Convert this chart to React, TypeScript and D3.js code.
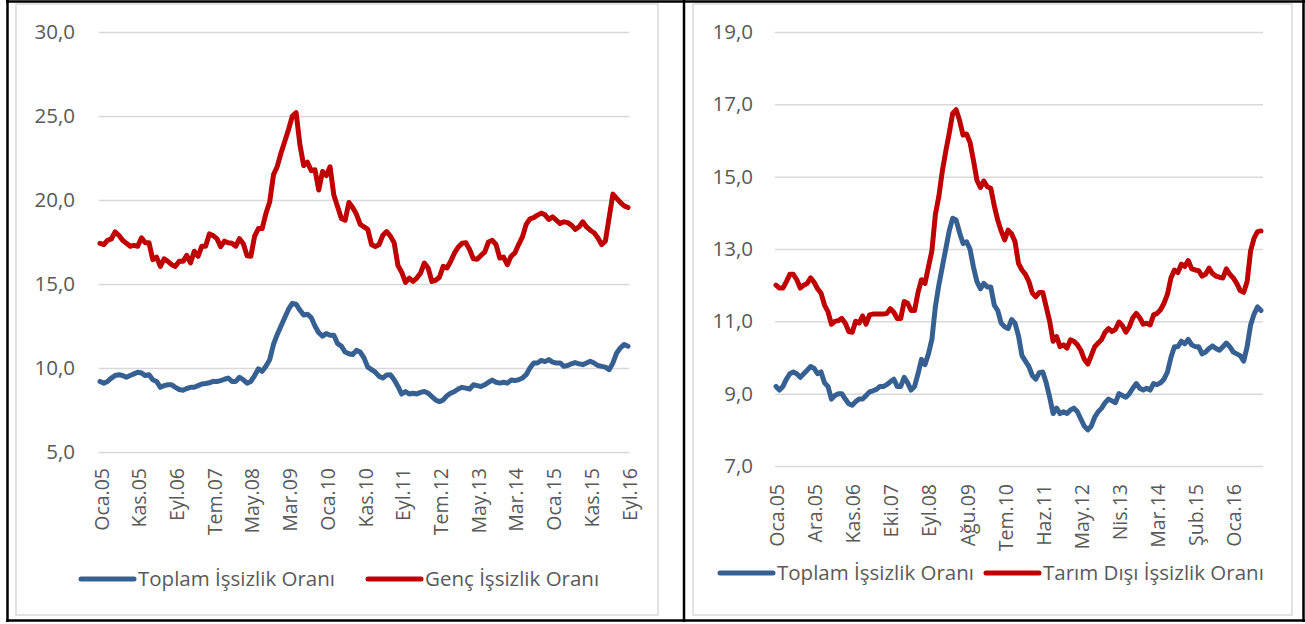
import * as d3 from "d3";
import { useEffect, useRef } from "react";

const MONTHS = ["Oca", "Şub", "Mar", "Nis", "May", "Haz", "Tem", "Ağu", "Eyl", "Eki", "Kas", "Ara"];
// Oca.05 .. Eyl.16, monthly
const categories = d3.range(141).map(
  (i) => `${MONTHS[i % 12]}.${String(5 + Math.floor(i / 12)).padStart(2, "0")}`
);

const toplam = [
  9.2, 9.1, 9.2, 9.4, 9.55, 9.6, 9.55, 9.45, 9.55, 9.65, 9.75, 9.7, 9.55, 9.6, 9.3, 9.2, 8.85, 8.95, 9.0, 9.0,
  8.85, 8.72, 8.68, 8.78, 8.85, 8.85, 8.95, 9.05, 9.08, 9.12, 9.2, 9.2, 9.25, 9.33, 9.4, 9.2, 9.2, 9.45, 9.3, 9.1,
  9.2, 9.55, 9.95, 9.8, 10.1, 10.5, 11.4, 12.0, 12.5, 13.0, 13.5, 13.85, 13.8, 13.45, 13.15, 13.2, 13.0, 12.5, 12.1, 11.9,
  12.05, 11.95, 11.95, 11.45, 11.3, 10.95, 10.85, 10.8, 11.05, 10.95, 10.6, 10.05, 9.9, 9.75, 9.5, 9.4, 9.58, 9.6, 9.3, 8.9,
  8.45, 8.6, 8.45, 8.5, 8.45, 8.55, 8.6, 8.5, 8.3, 8.1, 8.0, 8.1, 8.35, 8.5, 8.6, 8.75, 8.85, 8.8, 8.75, 9.0,
  8.95, 8.9, 9.0, 9.15, 9.28, 9.15, 9.1, 9.15, 9.1, 9.28, 9.25, 9.3, 9.4, 9.6, 10.0, 10.3, 10.3, 10.45, 10.38, 10.5,
  10.35, 10.3, 10.3, 10.1, 10.15, 10.25, 10.32, 10.25, 10.2, 10.3, 10.4, 10.3, 10.15, 10.1, 10.05, 9.9, 10.3, 10.9, 11.2, 11.4,
  11.3,
];

const genc = [
  17.42, 17.35, 17.6, 17.68, 18.1, 17.9, 17.6, 17.42, 17.25, 17.3, 17.25, 17.75, 17.45, 17.45, 16.45, 16.6, 16.05, 16.5, 16.35, 16.15,
  16.05, 16.35, 16.35, 16.7, 16.25, 16.95, 16.65, 17.25, 17.25, 17.98, 17.88, 17.7, 17.22, 17.55, 17.45, 17.42, 17.25, 17.7, 17.4, 16.68,
  16.65, 17.85, 18.3, 18.3, 19.2, 19.9, 21.5, 22.0, 22.8, 23.5, 24.2, 25.0, 25.2, 23.3, 22.05, 22.25, 21.75, 21.8, 20.6, 21.7,
  21.45, 21.98, 20.3, 19.6, 18.9, 18.8, 19.85, 19.55, 19.15, 18.55, 18.4, 18.25, 17.35, 17.22, 17.35, 17.9, 18.12, 17.85, 17.45, 16.1,
  15.7, 15.1, 15.35, 15.15, 15.35, 15.65, 16.25, 15.95, 15.15, 15.22, 15.4, 16.05, 15.95, 16.35, 16.85, 17.2, 17.42, 17.45, 17.05, 16.5,
  16.47, 16.7, 16.9, 17.5, 17.6, 17.35, 16.55, 16.6, 16.15, 16.65, 16.85, 17.35, 17.8, 18.55, 18.88, 18.95, 19.1, 19.22, 19.12, 18.85,
  19.0, 18.8, 18.6, 18.7, 18.65, 18.5, 18.25, 18.4, 18.7, 18.4, 18.2, 18.05, 17.75, 17.35, 17.55, 18.95, 20.35, 20.1, 19.85, 19.65,
  19.55,
];

const tarimDisi = [
  12.0, 11.92, 11.92, 12.1, 12.3, 12.3, 12.15, 11.92, 12.0, 12.05, 12.2, 12.08, 11.9, 11.78, 11.45, 11.27, 10.92, 11.0, 11.02, 11.08,
  10.95, 10.72, 10.7, 11.0, 10.95, 11.15, 10.92, 11.18, 11.2, 11.2, 11.2, 11.2, 11.22, 11.35, 11.25, 11.08, 11.08, 11.55, 11.5, 11.3,
  11.3, 11.8, 12.15, 12.05, 12.5, 12.95, 13.95, 14.45, 15.15, 15.7, 16.2, 16.75, 16.85, 16.55, 16.15, 16.18, 15.95, 15.45, 14.9, 14.7,
  14.88, 14.72, 14.68, 14.2, 13.8, 13.5, 13.25, 13.52, 13.42, 13.2, 12.6, 12.42, 12.3, 12.1, 11.78, 11.68, 11.8, 11.8, 11.4, 11.0,
  10.45, 10.58, 10.3, 10.35, 10.26, 10.49, 10.45, 10.35, 10.2, 9.95, 9.82, 10.05, 10.3, 10.4, 10.5, 10.7, 10.8, 10.72, 10.78, 10.98,
  10.88, 10.7, 10.85, 11.1, 11.22, 11.1, 10.92, 10.95, 10.9, 11.18, 11.22, 11.32, 11.5, 11.75, 12.2, 12.42, 12.35, 12.58, 12.52, 12.68,
  12.45, 12.42, 12.4, 12.25, 12.3, 12.47, 12.32, 12.25, 12.22, 12.2, 12.45, 12.3, 12.2, 12.05, 11.85, 11.8, 12.1, 12.95, 13.3, 13.48,
  13.5,
];

const leftTicks = ["Oca.05", "Kas.05", "Eyl.06", "Tem.07", "May.08", "Mar.09", "Oca.10", "Kas.10", "Eyl.11", "Tem.12", "May.13", "Mar.14", "Oca.15", "Kas.15", "Eyl.16"];
const rightTicks = ["Oca.05", "Ara.05", "Kas.06", "Eki.07", "Eyl.08", "Ağu.09", "Tem.10", "Haz.11", "May.12", "Nis.13", "Mar.14", "Şub.15", "Oca.16"];
const leftYTicks = [5, 10, 15, 20, 25, 30];
const rightYTicks = [7, 9, 11, 13, 15, 17, 19];

const leftSeries = [
  { name: "Toplam İşsizlik Oranı", values: toplam, color: "#376092" },
  { name: "Genç İşsizlik Oranı", values: genc, color: "#C00000" },
];
const rightSeries = [
  { name: "Toplam İşsizlik Oranı", values: toplam, color: "#376092" },
  { name: "Tarım Dışı İşsizlik Oranı", values: tarimDisi, color: "#C00000" },
];

const FONT = "'Open Sans', 'Noto Sans', sans-serif";
const TEXT = "#595959";
const GRID = "#d9d9d9";

const fmt = d3
  .formatLocale({ decimal: ",", thousands: ".", grouping: [3], currency: ["", "₺"] })
  .format(".1f");

type Panel = {
  series: { name: string; values: number[]; color: string }[];
  xRange: [number, number];
  gridX: [number, number];
  yDomain: [number, number];
  yRange: [number, number];
  yTicks: number[];
  xTicks: string[];
  labelTop: number;
  labelDx: number;
  labelPad: number;
  legendY: number;
  legendX: number[];
  box: [number, number, number, number];
};

const App = () => {
  const ref = useRef<SVGSVGElement | null>(null);

  useEffect(() => {
    if (!ref.current) return;
    const svg = d3.select(ref.current);
    svg.selectAll("*").remove();

    svg.append("rect").attr("width", 1305).attr("height", 624).attr("fill", "#fff");

    const panels: Panel[] = [
      {
        series: leftSeries,
        xRange: [100, 628],
        gridX: [99, 629],
        yDomain: [5, 30],
        yRange: [452, 32],
        yTicks: leftYTicks,
        xTicks: leftTicks,
        labelTop: 468,
        labelDx: 1.5,
        labelPad: 24,
        legendY: 579,
        legendX: [81, 368],
        box: [16, 4, 658, 615],
      },
      {
        series: rightSeries,
        xRange: [776, 1261],
        gridX: [775, 1263],
        yDomain: [7, 19],
        yRange: [466, 32],
        yTicks: rightYTicks,
        xTicks: rightTicks,
        labelTop: 484,
        labelDx: 1,
        labelPad: 22,
        legendY: 573,
        legendX: [720, 986],
        box: [693, 4, 1292, 615],
      },
    ];

    panels.forEach((p) => {
      const g = svg.append("g");
      const [bx0, by0, bx1, by1] = p.box;
      g.append("rect")
        .attr("x", bx0)
        .attr("y", by0)
        .attr("width", bx1 - bx0)
        .attr("height", by1 - by0)
        .attr("fill", "none")
        .attr("stroke", GRID)
        .attr("stroke-width", 1.5);

      const x = d3.scalePoint<string>().domain(categories).range(p.xRange);
      const y = d3.scaleLinear().domain(p.yDomain).range(p.yRange);

      g.append("g")
        .attr("transform", `translate(${p.gridX[0]},0)`)
        .call(
          d3.axisLeft(y)
            .tickValues(p.yTicks)
            .tickSize(-(p.gridX[1] - p.gridX[0]))
            .tickPadding(p.labelPad)
            .tickFormat((d) => fmt(+d))
        )
        .call((a) => {
          a.select(".domain").remove();
          a.selectAll(".tick line").attr("stroke", GRID).attr("stroke-width", 1.5);
          a.selectAll(".tick text")
            .attr("fill", TEXT)
            .style("font-family", FONT)
            .style("font-size", "20.5px");
        });

      g.append("g")
        .selectAll("text")
        .data(p.xTicks)
        .join("text")
        .attr("transform", (d) => `translate(${x(d)! + p.labelDx},${p.labelTop}) rotate(-90)`)
        .attr("text-anchor", "end")
        .attr("dy", "0.36em")
        .attr("fill", TEXT)
        .style("font-family", FONT)
        .style("font-size", "19.5px")
        .text((d) => d);

      const line = d3
        .line<number>()
        .x((_, i) => x(categories[i])!)
        .y((d) => y(d));

      p.series.forEach((s) => {
        g.append("path")
          .datum(s.values)
          .attr("d", line)
          .attr("fill", "none")
          .attr("stroke", s.color)
          .attr("stroke-width", 5)
          .attr("stroke-linejoin", "round")
          .attr("stroke-linecap", "round");
      });

      p.series.forEach((s, i) => {
        const lx = p.legendX[i];
        g.append("line")
          .attr("x1", lx)
          .attr("x2", lx + 53)
          .attr("y1", p.legendY)
          .attr("y2", p.legendY)
          .attr("stroke", s.color)
          .attr("stroke-width", 5)
          .attr("stroke-linecap", "round");
        g.append("text")
          .attr("x", lx + 57)
          .attr("y", p.legendY)
          .attr("dy", "0.36em")
          .attr("fill", TEXT)
          .style("font-family", FONT)
          .style("font-size", "20.5px")
          .text(s.name);
      });
    });

    // black frame of the two-cell table
    const frame = svg.append("g").attr("stroke", "#000").attr("stroke-width", 2.5);
    frame.append("line").attr("x1", 6).attr("x2", 1305).attr("y1", 1.5).attr("y2", 1.5);
    frame.append("line").attr("x1", 6).attr("x2", 1305).attr("y1", 620.5).attr("y2", 620.5);
    frame.append("line").attr("x1", 7.5).attr("x2", 7.5).attr("y1", 0).attr("y2", 622);
    frame.append("line").attr("x1", 684).attr("x2", 684).attr("y1", 0).attr("y2", 622);
    frame.append("line").attr("x1", 1303.5).attr("x2", 1303.5).attr("y1", 0).attr("y2", 622);
  }, []);

  return (
    <svg
      ref={ref}
      width={1305}
      height={624}
      style={{ position: "absolute", left: 0, top: 0, display: "block" }}
    />
  );
};

export default App;
